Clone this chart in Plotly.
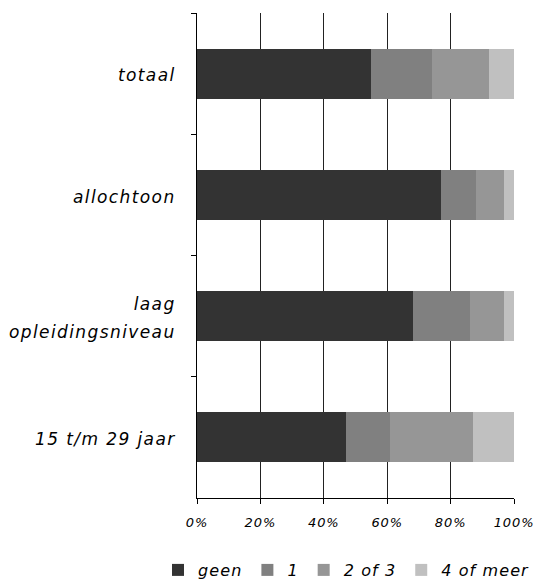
import plotly.graph_objects as go

categories = ["totaal", "allochtoon", "laag<br>opleidingsniveau", "15 t/m 29 jaar"]
series_names = ["geen", "1", "2 of 3", "4 of meer"]
geen = [55, 77, 68, 47]
een = [19, 11, 18, 14]
twee_drie = [18, 9, 11, 26]
vier_meer = [8, 3, 3, 13]
series_values = [geen, een, twee_drie, vier_meer]
colors = ["#333333", "#808080", "#969696", "#c0c0c0"]
tick_vals = [0, 20, 40, 60, 80, 100]
tick_labels = ["0%", "20%", "40%", "60%", "80%", "100%"]

FONT = "DejaVu Sans"
W, H = 535, 582
ML, MR, MT, MB = 197, 21, 13, 84
PW, PH = W - ML - MR, H - MT - MB

def sp(t, size, ls):
    return f"<span style='font-size:{size}px;letter-spacing:{ls}px'>{t}</span>"

cat_labels = ["<br>".join(sp(p, 17, 1.4) for p in c.split("<br>")) for c in categories]

fig = go.Figure()
for name, vals, col in zip(series_names, series_values, colors):
    fig.add_trace(go.Bar(
        y=cat_labels, x=vals, name=sp(name, 16, 1.1), orientation="h",
        marker=dict(color=col, line=dict(width=0)),
    ))

fig.update_layout(
    width=W, height=H,
    barmode="stack", bargap=0.587,
    paper_bgcolor="white", plot_bgcolor="white",
    margin=dict(l=ML, r=MR, t=MT, b=MB, autoexpand=False),
    font=dict(family=FONT, color="black"),
    showlegend=True,
    legend=dict(
        orientation="h",
        x=(158 - ML) / PW, xanchor="left",
        y=-(MB + 5) / PH, yanchor="bottom",
        font=dict(family=FONT, size=16, style="italic", color="black"),
        traceorder="normal", itemwidth=30, bgcolor="rgba(0,0,0,0)",
    ),
    xaxis=dict(
        range=[0, 100], tickvals=tick_vals,
        ticktext=[sp(t, 13, 0.9) for t in tick_labels],
        tickfont=dict(family=FONT, size=13, style="italic", color="black"),
        showgrid=True, gridcolor="#222222", gridwidth=1,
        showline=True, linecolor="black", linewidth=1,
        ticks="outside", ticklen=5, tickcolor="black",
        ticklabelstandoff=7, zeroline=False, fixedrange=True,
        automargin=False, ticklabeloverflow="allow",
    ),
    yaxis=dict(
        autorange="reversed", type="category",
        tickfont=dict(family=FONT, size=22, style="italic", color="black"),
        showline=True, linecolor="black", linewidth=1,
        ticks="outside", ticklen=5, tickcolor="black", tickson="boundaries",
        ticklabelstandoff=16, showgrid=False, fixedrange=True,
        automargin=False, ticklabeloverflow="allow",
    ),
)

fig.write_html(
    "out.html",
    config={"displayModeBar": False},
    post_script="document.body.style.margin='0';document.body.style.overflow='hidden';",
)
